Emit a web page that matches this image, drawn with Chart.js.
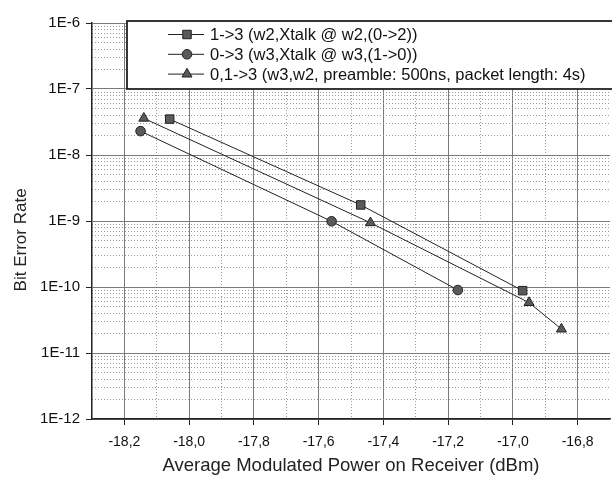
<!DOCTYPE html>
<html>
<head>
<meta charset="utf-8">
<script src="https://cdn.jsdelivr.net/npm/chart.js@4"></script>
<style>
  html, body { margin: 0; padding: 0; background: #fff; }
  #wrap { width: 612px; height: 477px; }
</style>
</head>
<body>
<div id="wrap"><canvas id="chart"></canvas></div>
<script>
// series
const powerSq = [-18.06, -17.47, -16.97];
const berSq = [3.5e-8, 1.75e-9, 8.8e-11];
const powerCi = [-18.15, -17.56, -17.17];
const berCi = [2.3e-8, 9.9e-10, 9.0e-11];
const powerTr = [-18.14, -17.44, -16.95, -16.85];
const berTr = [3.6e-8, 9.4e-10, 5.8e-11, 2.3e-11];

const labels = [
  "1->3 (w2,Xtalk @ w2,(0->2))",
  "0->3 (w3,Xtalk @ w3,(1->0))",
  "0,1->3 (w3,w2, preamble: 500ns, packet length: 4s)",
];

const xMajor = [-18.2, -18.0, -17.8, -17.6, -17.4, -17.2, -17.0, -16.8];
const xMinor = [-18.1, -17.9, -17.7, -17.5, -17.3, -17.1, -16.9];
const decades = [-12, -11, -10, -9, -8, -7, -6];

const FONT = "'Liberation Sans', Arial, sans-serif";

const pts = (xs, ys) => xs.map((x, i) => ({ x, y: ys[i] }));

const yMinor = [];
decades.slice(0, -1).forEach((d) => {
  for (let m = 2; m <= 9; m++) yMinor.push(m * Math.pow(10, d));
});

const series = (label, data, style, radius) => ({
  label,
  data,
  borderColor: "#222",
  borderWidth: 1,
  pointStyle: style,
  pointRadius: radius,
  pointBackgroundColor: "#5a5a5a",
  pointBorderColor: "#222",
  pointBorderWidth: 1,
  tension: 0,
});

// legend box drawn inside the plot, like the original figure
const boxLegend = {
  id: "boxLegend",
  afterDraw(chart) {
    const { ctx } = chart;
    const left = 127, top = 21, bottom = chart.scales.y.getPixelForValue(1e-7);
    ctx.save();
    ctx.fillStyle = "#fff";
    ctx.fillRect(left, top, 612 - left, bottom - top);
    ctx.strokeStyle = "#222";
    ctx.lineWidth = 1.8;
    ctx.strokeRect(left, top, 612 - left + 4, bottom - top);
    ctx.font = "16.5px " + FONT;
    ctx.textBaseline = "middle";
    chart.data.datasets.forEach((ds, i) => {
      const y = 34.5 + i * 19.8;
      ctx.strokeStyle = "#222";
      ctx.lineWidth = 1;
      ctx.beginPath();
      ctx.moveTo(168, y);
      ctx.lineTo(204, y);
      ctx.stroke();
      ctx.fillStyle = ds.pointBackgroundColor;
      ctx.strokeStyle = ds.pointBorderColor;
      Chart.helpers.drawPoint(ctx, { pointStyle: ds.pointStyle, radius: ds.pointRadius, borderWidth: 1 }, 187, y);
      ctx.fillStyle = "#111";
      ctx.fillText(ds.label, 210, y + 1);
    });
    ctx.restore();
  },
};

new Chart(document.getElementById("chart"), {
  type: "line",
  data: {
    datasets: [
      series(labels[0], pts(powerSq, berSq), "rect", 6),
      series(labels[1], pts(powerCi, berCi), "circle", 4.8),
      series(labels[2], pts(powerTr, berTr), "triangle", 5.8),
    ],
  },
  options: {
    responsive: true,
    maintainAspectRatio: false,
    animation: false,
    layout: { autoPadding: false, padding: { top: 23, right: 2, left: 0, bottom: 0 } },
    plugins: { legend: { display: false }, tooltip: { enabled: false } },
    scales: {
      x: {
        type: "linear",
        min: -18.3,
        max: -16.7,
        afterBuildTicks: (s) => { s.ticks = xMajor.map((v) => ({ value: v })); },
        afterFit: (s) => { s.height = 58; },
        ticks: {
          color: "#111",
          font: { family: FONT, size: 14 },
          padding: 9,
          maxRotation: 0,
          callback: (v) => v.toFixed(1).replace(".", ","),
        },
        grid: { color: "#7a7a7a", lineWidth: 1, tickLength: 6, tickColor: "#222" },
        border: { color: "#222", width: 1.5 },
        title: {
          display: true,
          text: "Average Modulated Power on Receiver (dBm)",
          color: "#222",
          font: { family: FONT, size: 18.5 },
          padding: { top: 8, bottom: 0 },
        },
      },
      x2: {
        type: "linear",
        position: "bottom",
        min: -18.3,
        max: -16.7,
        afterBuildTicks: (s) => { s.ticks = xMinor.map((v) => ({ value: v })); },
        afterFit: (s) => { s.height = 0; },
        ticks: { display: false },
        grid: { color: "#9a9a9a", lineWidth: 1, tickLength: 3, tickColor: "#222" },
        border: { display: false, dash: [1, 2] },
      },
      y: {
        type: "logarithmic",
        min: 1e-12,
        max: 1e-6,
        afterBuildTicks: (s) => { s.ticks = decades.map((d) => ({ value: Math.pow(10, d) })); },
        afterFit: (s) => { s.width = 92; },
        ticks: {
          color: "#111",
          font: { family: FONT, size: 15 },
          padding: 6,
          callback: (v) => "1E" + Math.round(Math.log10(v)),
        },
        grid: { color: "#7a7a7a", lineWidth: 1, tickLength: 6, tickColor: "#222" },
        border: { color: "#222", width: 1.5 },
        title: {
          display: true,
          // trailing spaces push the centred title a little lower, as in the figure
          text: "Bit Error Rate        ",
          color: "#222",
          font: { family: FONT, size: 17 },
          padding: { top: 11, bottom: 0 },
        },
      },
      y2: {
        type: "logarithmic",
        position: "left",
        min: 1e-12,
        max: 1e-6,
        afterBuildTicks: (s) => { s.ticks = yMinor.map((v) => ({ value: v })); },
        afterFit: (s) => { s.width = 0; },
        ticks: { display: false },
        grid: { color: "#9a9a9a", lineWidth: 1, tickLength: 3, tickColor: "#222" },
        border: { display: false, dash: [1, 2] },
      },
    },
  },
  plugins: [boxLegend],
});
</script>
</body>
</html>
